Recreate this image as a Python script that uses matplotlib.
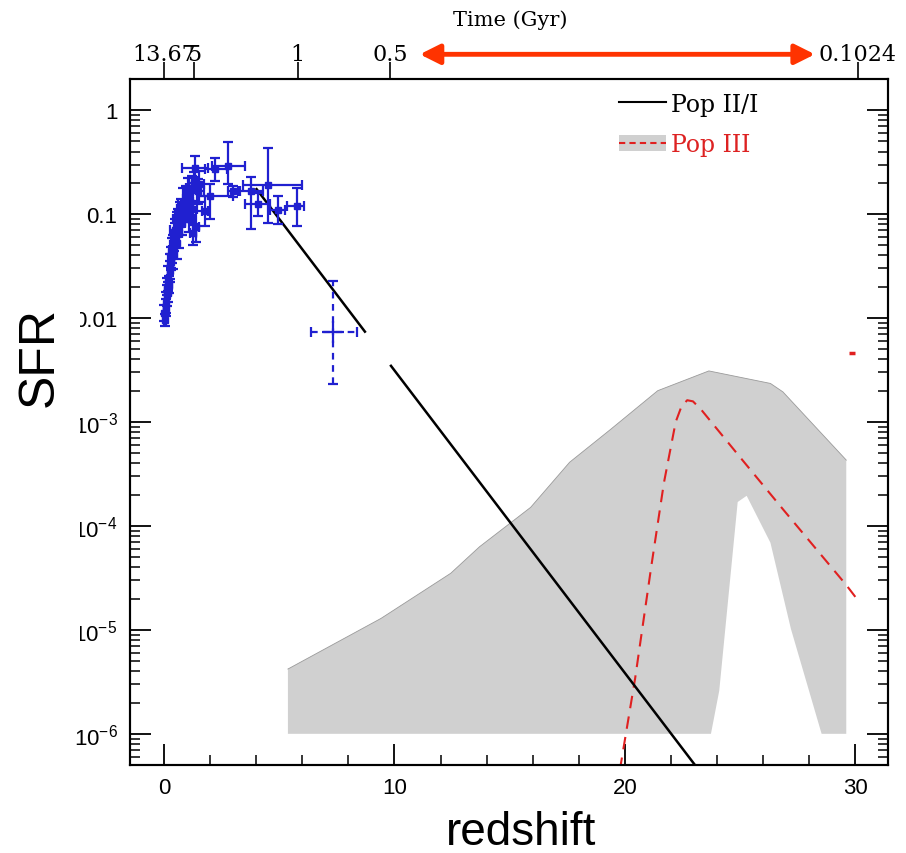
import matplotlib
matplotlib.use("Agg")
import matplotlib.pyplot as plt
import numpy as np
from matplotlib.lines import Line2D
from matplotlib.patches import Patch, Rectangle
from matplotlib.ticker import MultipleLocator, LogLocator, NullFormatter, NullLocator

plt.rcParams['font.family'] = ['Liberation Sans', 'DejaVu Sans']
plt.rcParams['mathtext.default'] = 'regular'

# blue data points (z, z range, SFR, SFR range)
pt_z = np.array([2.79, 2.21, 1.35, 1.53, 2.00, 3.00, 3.80, 4.53, 4.09, 4.96, 5.76, 1.78, 1.27])
pt_zlo = np.array([2.07, 1.78, 0.77, 1.30, 1.42, 2.79, 3.20, 3.44, 3.51, 4.60, 5.32, 1.65, 1.15])
pt_zhi = np.array([3.51, 2.72, 1.92, 1.75, 3.00, 3.30, 4.30, 5.97, 4.60, 5.25, 6.07, 1.92, 1.40])
pt_sfr = np.array([0.29, 0.27, 0.28, 0.195, 0.15, 0.167, 0.168, 0.19, 0.126, 0.11, 0.12, 0.107, 0.066])
pt_slo = np.array([0.195, 0.21, 0.23, 0.13, 0.09, 0.145, 0.072, 0.083, 0.095, 0.08, 0.077, 0.077, 0.051])
pt_shi = np.array([0.49, 0.35, 0.36, 0.26, 0.195, 0.185, 0.23, 0.43, 0.16, 0.15, 0.18, 0.15, 0.08])

# low-z cluster
clus_z = np.array([0.02, 0.05, 0.08, 0.10, 0.12, 0.15, 0.18, 0.20, 0.22, 0.25, 0.28, 0.30, 0.33,
                   0.35, 0.38, 0.40, 0.45, 0.48, 0.50, 0.55, 0.58, 0.60, 0.65, 0.70, 0.75, 0.80,
                   0.85, 0.90, 0.95, 1.00, 1.05, 1.10, 1.15, 1.20, 1.25, 1.30, 1.40, 1.50])
clus_sfr = np.array([0.0112, 0.00955, 0.0141, 0.0126, 0.0166, 0.020, 0.0178, 0.024, 0.0209, 0.0282,
                     0.0316, 0.038, 0.0347, 0.0447, 0.050, 0.0417, 0.056, 0.063, 0.071, 0.0525,
                     0.079, 0.089, 0.066, 0.100, 0.112, 0.083, 0.126, 0.105, 0.141, 0.120, 0.158,
                     0.089, 0.132, 0.178, 0.112, 0.20, 0.076, 0.166])
clus_zerr = np.array([0.03, 0.06, 0.05, 0.08, 0.06, 0.08, 0.12, 0.08, 0.12, 0.08, 0.12, 0.12, 0.08,
                      0.12, 0.12, 0.18, 0.12, 0.12, 0.22, 0.12, 0.12, 0.22, 0.12, 0.22, 0.18, 0.12,
                      0.22, 0.28, 0.12, 0.22, 0.18, 0.22, 0.12, 0.22, 0.18, 0.22, 0.12, 0.22])
clus_dex = np.array([0.08, 0.06, 0.1, 0.08, 0.1, 0.08, 0.1, 0.12, 0.08, 0.1, 0.12, 0.1, 0.08,
                     0.12, 0.1, 0.15, 0.1, 0.12, 0.1, 0.15, 0.12, 0.1, 0.15, 0.12, 0.1, 0.12,
                     0.15, 0.1, 0.12, 0.1, 0.15, 0.12, 0.1, 0.12, 0.15, 0.1, 0.15, 0.12])

# high-z single point (dashed error bars)
hz_z, hz_zlo, hz_zhi = 7.35, 6.38, 8.36
hz_sfr, hz_slo, hz_shi = 0.0074, 0.00232, 0.0229

# Pop II/I line (two pieces, gap in original)
popii_z1 = [4.02, 8.72]
popii_s1 = [0.174, 0.0074]
popii_z2 = [9.85, 23.3]
popii_s2 = [3.47e-3, 4.2e-7]

# Pop III band (polygon outline)
band_z = [5.38, 5.38, 9.42, 12.44, 13.69, 15.91, 17.6, 19.38, 21.42, 23.64, 26.31, 26.85, 29.6,
          29.6, 28.53, 27.2, 26.31, 25.28, 24.89, 24.09, 23.73]
band_sfr = [1e-6, 4.2e-6, 1.29e-5, 3.5e-5, 6.3e-5, 1.51e-4, 4.1e-4, 8.5e-4, 2.0e-3, 3.1e-3,
            2.35e-3, 1.95e-3, 4.3e-4, 1e-6, 1e-6, 1.02e-5, 6.9e-5, 1.95e-4, 1.7e-4, 2.6e-6, 1e-6]

# Pop III dashed curve
p3_z = [19.78, 20.44, 21.15, 21.69, 22.2, 22.45, 22.7, 22.95, 23.3, 25.07, 26.85, 29.6, 30.05]
p3_sfr = [4.5e-7, 3.4e-6, 4.2e-5, 2.6e-4, 1.0e-3, 1.41e-3, 1.62e-3, 1.58e-3, 1.32e-3, 4.37e-4,
          1.45e-4, 2.7e-5, 2.0e-5]
p3_mark = (29.87, 4.6e-3)

# top axis: cosmic time
time_z = [0, 1.3, 5.8, 9.8, 30.1]
time_lab = ['13.67', '5', '1', '0.5', '0.1024']
arrow_z = (11.1, 28.24)

ytick_vals = [1, 0.1, 0.01, 1e-3, 1e-4, 1e-5, 1e-6]
ytick_lab = ['1', '0.1', '0.01', '$10^{-3}$', '$10^{-4}$', '$10^{-5}$', '$10^{-6}$']

blue = '#2020d0'
red = '#e02020'

fig = plt.figure(figsize=(9.06, 8.54), dpi=100)
ax = fig.add_axes([130/906, 1-766/854, 758/906, 686/854])
ax.set_yscale('log')
ax.set_xlim(-1.47, 31.41)
ax.set_ylim(10**-6.3, 10**0.3)

ax.fill(band_z, band_sfr, facecolor='#d0d0d0', edgecolor='none', zorder=1)
ax.plot(band_z[1:13], band_sfr[1:13], color='#9a9a9a', lw=0.6, zorder=1.5)

ax.plot(p3_z, p3_sfr, color=red, lw=1.5, ls=(0, (6, 4)), zorder=3)
ax.plot(*p3_mark, marker='_', ms=5, mew=2.5, color=red)

ax.plot(popii_z1, popii_s1, color='black', lw=1.8, zorder=4)
ax.plot(popii_z2, popii_s2, color='black', lw=1.8, zorder=4)

ekw = dict(color=blue, elinewidth=1.6, capsize=3.5, capthick=1.6, zorder=5)
ax.errorbar(clus_z, clus_sfr, xerr=clus_zerr,
            yerr=[clus_sfr - clus_sfr * 10**(-clus_dex), clus_sfr * 10**clus_dex - clus_sfr],
            fmt='s', ms=4, **ekw)
ax.errorbar(pt_z, pt_sfr, xerr=[pt_z - pt_zlo, pt_zhi - pt_z],
            yerr=[pt_sfr - pt_slo, pt_shi - pt_sfr], fmt='s', ms=4.5, **ekw)
eb = ax.errorbar([hz_z], [hz_sfr], xerr=[[hz_z - hz_zlo], [hz_zhi - hz_z]],
                 yerr=[[hz_sfr - hz_slo], [hz_shi - hz_sfr]], fmt='none', **ekw)
for lc in eb[2]:
    lc.set_linestyle((0, (3, 2.5)))
ax.plot(hz_z, hz_sfr, marker='+', ms=16, mew=1.6, color=blue, zorder=5)

# axes styling
ax.xaxis.set_major_locator(MultipleLocator(10))
ax.xaxis.set_minor_locator(MultipleLocator(2))
ax.yaxis.set_minor_locator(LogLocator(base=10, subs=np.arange(2, 10), numticks=20))
ax.yaxis.set_minor_formatter(NullFormatter())
ax.set_yticks(ytick_vals, ytick_lab)
ax.set_ylim(10**-6.3, 10**0.3)
ax.tick_params(which='major', direction='in', length=15, width=1.3, right=True, top=False,
               labelsize=16, pad=9)
ax.tick_params(which='minor', direction='in', length=7, width=1.1, right=True, top=False)
for s in ax.spines.values():
    s.set_linewidth(1.5)

ax2 = ax.twiny()
ax2.set_xlim(ax.get_xlim())
ax2.set_xticks(time_z, time_lab, fontfamily='DejaVu Serif', fontsize=16)
ax2.xaxis.set_minor_locator(NullLocator())
ax2.tick_params(axis='x', direction='out', length=12, width=1.2, pad=-2)
for s in ax2.spines.values():
    s.set_linewidth(1.5)

ax.annotate('', xy=(arrow_z[1], 1.036), xycoords=('data', 'axes fraction'),
            xytext=(arrow_z[0], 1.036), textcoords=('data', 'axes fraction'),
            arrowprops=dict(arrowstyle='<|-|>,head_length=1.2,head_width=0.6', color='#ff3300',
                            lw=3.5, shrinkA=0, shrinkB=0), annotation_clip=False)

h1 = Line2D([], [], color='black', lw=1.5)
h2 = (Patch(facecolor='#d0d0d0', edgecolor='none'),
      Line2D([], [], color=red, lw=1.5, ls=(0, (3, 2))))
ax.legend([h1, h2], ['Pop II/I', 'Pop III'], loc='upper left', bbox_to_anchor=(0.645, 0.98),
          frameon=False, prop={'family': 'DejaVu Serif', 'size': 17}, handlelength=2.0,
          handletextpad=0.2, labelspacing=0.75, borderpad=0, borderaxespad=0,
          labelcolor=['black', '#dd2222'])

fig.text(510/906, 1-20/854, 'Time (Gyr)', fontfamily='DejaVu Serif', fontsize=15,
         ha='center', va='center')
fig.add_artist(Rectangle((0, 1-655/854), 80/906, 365/854, transform=fig.transFigure,
                         facecolor='white', edgecolor='none', zorder=5))
fig.text(40/906, 1-357/854, 'SFR', rotation=90, fontsize=36, ha='center', va='center', zorder=6)
fig.text(521/906, 1-833/854, 'redshift', fontsize=33, ha='center', va='center')

fig.savefig('out.png', dpi=100)
